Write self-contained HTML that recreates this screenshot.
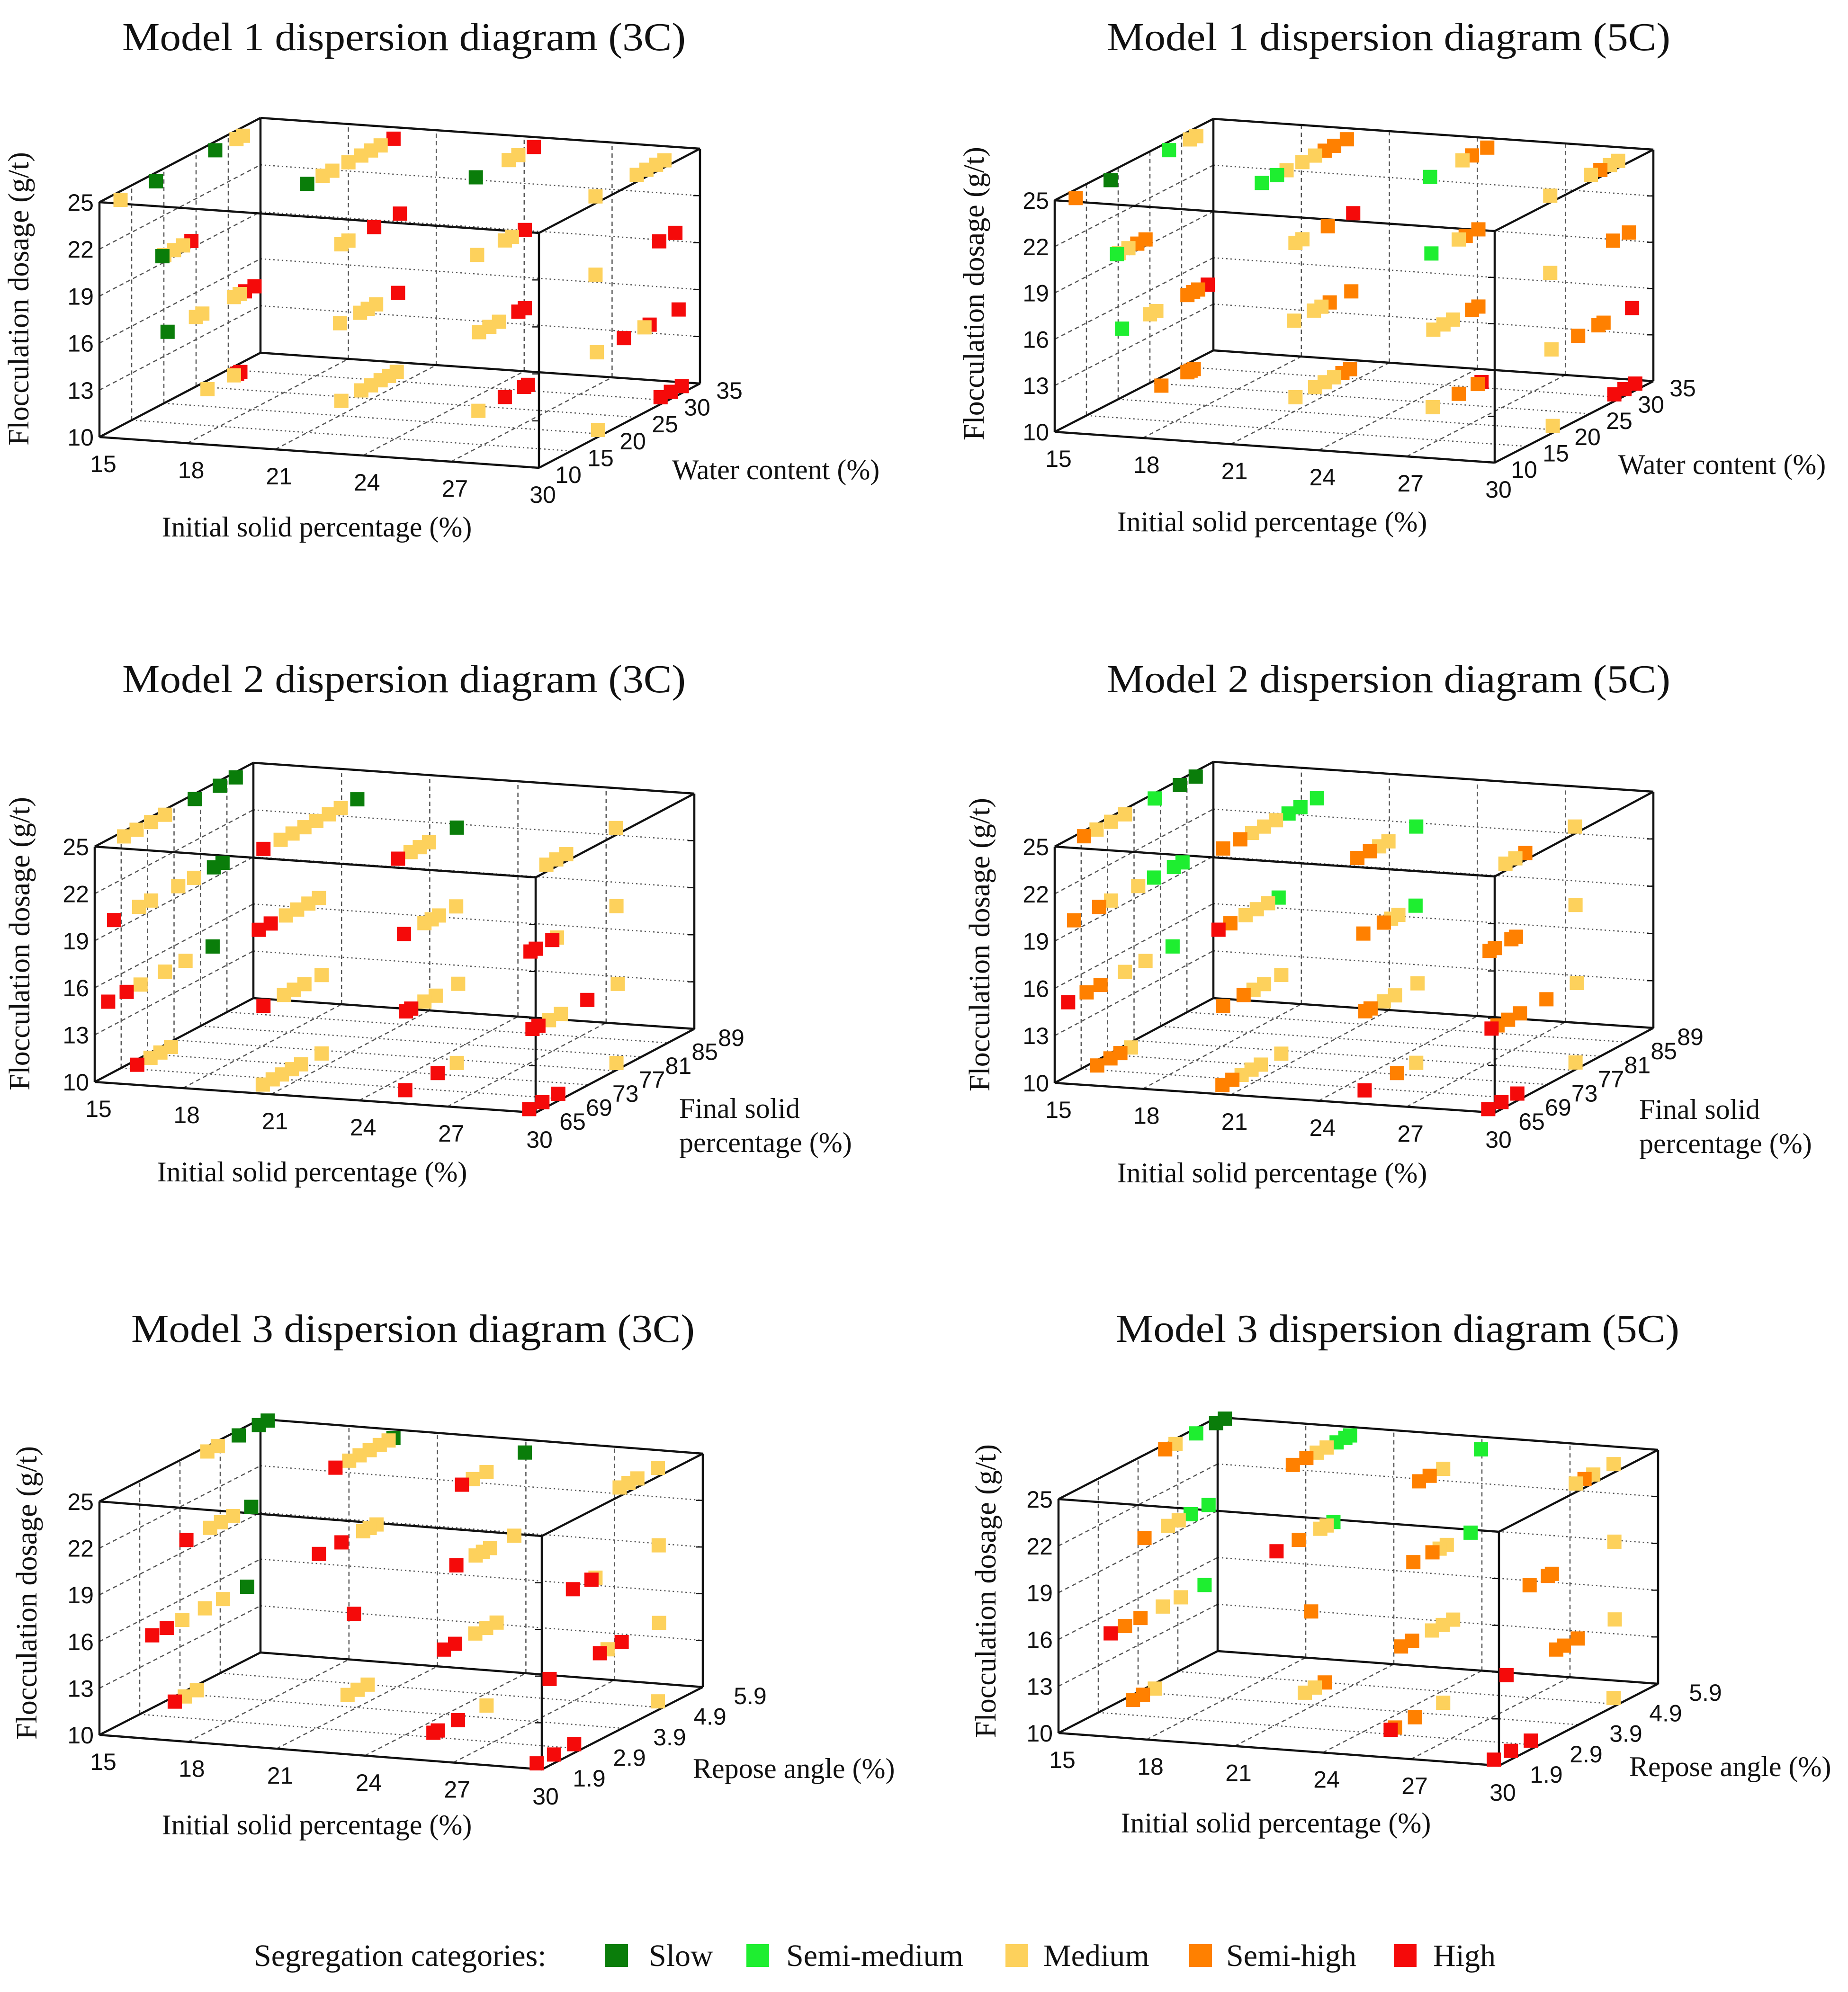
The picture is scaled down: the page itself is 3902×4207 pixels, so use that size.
<!DOCTYPE html>
<html><head><meta charset="utf-8"><style>
html,body{margin:0;padding:0;background:#fff;}
svg{display:block;}
</style></head><body>
<svg id="fig" xmlns="http://www.w3.org/2000/svg" width="3902" height="4207" viewBox="0 0 3902 4207">
<rect x="0" y="0" width="3902" height="4207" fill="#fff"/>
<g id="panels"></g>
<g id="legend" font-family="Liberation Serif, serif" font-size="66" fill="#111">
  <text x="536" y="4152">Segregation categories:</text>
  <rect x="1278" y="4106" width="48" height="48" fill="#0a7d0a"/>
  <text x="1370" y="4152">Slow</text>
  <rect x="1576" y="4106" width="48" height="48" fill="#1eee30"/>
  <text x="1660" y="4152">Semi-medium</text>
  <rect x="2123" y="4106" width="48" height="48" fill="#fdd15c"/>
  <text x="2203" y="4152">Medium</text>
  <rect x="2511" y="4106" width="48" height="48" fill="#ff8000"/>
  <text x="2589" y="4152">Semi-high</text>
  <rect x="2943" y="4106" width="48" height="48" fill="#f50a0a"/>
  <text x="3026" y="4152">High</text>
</g>
</svg>
<script>
// ---------- shared ticks ----------
const initTicks = [15,18,21,24,27,30];
const doseTicks = [10,13,16,19,22,25];
const waterTicks = [10,15,20,25,30,35];
const finalTicks = [65,69,73,77,81,85,89];
const reposeTicks = [1.9,2.9,3.9,4.9,5.9];

// ---------- Model 1 ----------
const m1Init = [
15.5,15.5,15.5,15.5,15.5,20.2,20.2,20.2,20.2,20.2,20.2,20.2,20.2,24.9,24.9,24.9,24.9,29.6,29.6,29.6,29.6,29.6,
15.5,15.5,15.5,15.5,15.5,20.2,20.2,20.2,20.2,24.9,24.9,24.9,24.9,29.6,29.6,29.6,
15.5,15.5,15.5,15.5,15.5,15.5,15.5,20.2,20.2,20.2,20.2,20.2,24.9,24.9,24.9,24.9,24.9,29.6,29.6,29.6,29.6,29.6,
15.5,15.5,15.5,15.5,20.2,20.2,20.2,20.2,20.2,20.2,24.9,24.9,24.9,24.9,29.6,29.6,29.6,29.6];
const m1Water = [
11,16.5,25.7,29,30,18.6,21,22.5,25,27,28.5,30,32,23.4,28.5,30,32.4,20.6,27,28.5,30,31.3,
17.5,17.8,19.3,20.7,22,23.9,25,29,33,23.6,27.9,29,31,20.6,30.5,33,
18.3,22.7,23.7,28.6,29.5,30.3,31.8,23.7,26.8,28,29.3,32.7,23.9,25.5,27,30,31,20.8,25,28.2,29,33.5,
24.5,28.6,29.1,29.6,23.9,27,28.5,30,31.3,32.5,23.8,27.9,30.9,31.5,21,30.7,32.3,34];
const m1Dose = [
25,25,25,25,25,25,25,25,25,25,25,25,25,25,25,25,25,25,25,25,25,25,
20,20,20,20,20,20,20,20,20,20,20,20,20,20,20,20,
15,15,15,15,15,15,15,15,15,15,15,15,15,15,15,15,15,15,15,15,15,15,
10,10,10,10,10,10,10,10,10,10,10,10,10,10,10,10,10,10];
const m1Cat3 = [
'M','S','S','M','M','S','M','M','M','M','M','M','H','S','M','M','H','M','M','M','M','M',
'S','M','M','M','H','M','M','H','H','M','M','M','H','M','H','H',
'S','M','M','M','M','H','H','M','M','M','M','H','M','M','M','H','H','M','H','M','H','H',
'M','M','H','H','M','M','M','M','M','M','M','H','H','H','M','H','H','H'];
const m1Cat5 = [
'SH','S','SM','M','M','SM','SM','M','M','M','SH','SH','SH','SM','M','SH','SH','M','M','SH','M','M',
'SM','M','M','SH','SH','M','M','SH','H','SM','M','SH','SH','M','SH','SH',
'SM','M','M','SH','SH','SH','H','M','M','M','SH','SH','M','M','M','SH','SH','M','SH','SH','SH','H',
'SH','SH','SH','SH','M','M','M','M','SH','SH','M','SH','SH','H','M','H','H','H'];

// ---------- Model 2 ----------
const m2Init = [
15.3,15.3,15.3,15.3,15.3,15.3,15.3,20.2,20.2,20.2,20.2,20.2,20.2,20.2,20.2,24.8,24.8,24.8,24.8,24.8,29.6,29.6,29.6,29.6,
15.3,15.3,15.3,15.3,15.3,15.3,15.3,20.2,20.2,20.2,20.2,20.2,20.2,24.8,24.8,24.8,24.8,24.8,29.6,29.6,29.6,29.6,29.6,
15.3,15.3,15.3,15.3,15.3,15.3,20.2,20.2,20.2,20.2,20.2,24.8,24.8,24.8,24.8,24.8,29.6,29.6,29.6,29.6,29.6,29.6,
15.3,15.3,15.3,15.3,20.2,20.2,20.2,20.2,20.2,20.2,24.8,24.8,24.8,29.6,29.6,29.6,29.6];
const m2Final = [
68.1,70,72.2,74.3,78.8,82.6,85,67.4,70,71.8,73.6,75.4,77.3,79.1,81.6,67.3,69.2,70.6,72,76.2,68.4,69.9,71.4,78.9,
66.6,70.4,72.2,76.3,78.7,81.7,83,66.7,68.5,70.8,72.5,74.2,75.8,68.2,71.3,72.4,73.5,76.1,66,66.8,69.3,70,79,
65.7,68.5,70.6,74.3,77.4,81.5,67.4,70.5,72,73.6,76.2,68.5,69.3,71.3,73,76.4,66.3,67.2,68.8,70.6,74.6,79.2,
70.1,72.1,73.6,75.2,67.3,68.8,70.2,71.7,73.1,76.2,68.4,73.3,76.2,65.8,67.8,70.2,79];
const m2Dose = [
25,25,25,25,25,25,25,25,25,25,25,25,25,25,25,25,25,25,25,25,25,25,25,25,
20,20,20,20,20,20,20,20,20,20,20,20,20,20,20,20,20,20,20,20,20,20,20,
15,15,15,15,15,15,15,15,15,15,15,15,15,15,15,15,15,15,15,15,15,15,
10,10,10,10,10,10,10,10,10,10,10,10,10,10,10,10,10];
const m2Cat3 = [
'M','M','M','M','S','S','S','H','M','M','M','M','M','M','S','H','M','M','M','S','M','M','M','M',
'H','M','M','M','M','S','S','H','H','M','M','M','M','H','M','M','M','M','H','H','H','M','M',
'H','H','M','M','M','S','H','M','M','M','M','H','H','M','M','M','H','H','M','M','H','M',
'H','M','M','M','M','M','M','M','M','M','H','H','M','H','H','H','M'];
const m2Cat5 = [
'SH','M','M','M','SM','S','S','SH','SH','M','M','M','SM','SM','SM','SH','SH','M','M','SM','M','M','SH','M',
'SH','SH','M','M','SM','SM','SM','H','SH','M','M','M','SM','SH','SH','M','M','SM','SH','SH','SH','SH','M',
'H','SH','SH','M','M','SM','SH','SH','M','M','M','SH','SH','M','M','M','H','SH','SH','SH','SH','M',
'SH','SH','SH','M','SH','SH','M','M','M','M','H','SH','M','H','H','H','M'];

// ---------- Model 3 ----------
const m3Init = [
15.3,15.3,15.3,15.3,15.3,20,20,20,20,20,20,20,24.7,24.7,24.7,24.7,29.5,29.5,29.5,29.5,
15.3,15.3,15.3,15.3,15.3,20,20,20,20,20,24.7,24.7,24.7,24.7,24.7,29.5,29.5,29.5,29.5,
15.3,15.3,15.3,15.3,15.3,15.3,20,24.7,24.7,24.7,24.7,24.7,29.5,29.5,29.5,29.5,29.5,
15.3,15.3,15.3,20,20,20,24.7,24.7,24.7,24.7,29.5,29.5,29.5,29.5];
const m3Repose = [
4.36,4.62,5.14,5.64,5.86,4.1,4.44,4.7,4.95,5.2,5.42,5.54,3.8,4.07,4.41,5.36,4.2,4.42,4.64,5.15,
3.84,4.43,4.7,5.0,5.45,3.69,4.25,4.79,4.95,5.12,3.66,4.14,4.32,4.5,5.1,3.04,3.5,3.6,5.17,
2.99,3.35,3.74,4.3,4.75,5.35,4.56,3.35,3.63,4.13,4.4,4.66,2.46,3.71,3.9,4.25,5.18,
3.55,3.8,4.1,4.4,4.65,4.9,3.09,3.2,3.7,4.41,2.14,2.57,3.07,5.15];
const m3Dose = [
25,25,25,25,25,25,25,25,25,25,25,25,25,25,25,25,25,25,25,25,
20,20,20,20,20,20,20,20,20,20,20,20,20,20,20,20,20,20,20,
15,15,15,15,15,15,15,15,15,15,15,15,15,15,15,15,15,
10,10,10,10,10,10,10,10,10,10,10,10,10,10];
const m3Cat3 = [
'M','M','S','S','S','H','M','M','M','M','M','S','H','M','M','S','M','M','M','M',
'H','M','M','M','S','H','H','M','M','M','H','M','M','M','M','H','H','M','M',
'H','H','M','M','M','S','H','H','H','M','M','M','H','H','M','H','M',
'H','M','M','M','M','M','H','H','H','M','H','H','H','M'];
const m3Cat5 = [
'SH','M','SM','S','S','SH','SH','M','M','SM','SM','SM','SH','SH','M','SM','M','SH','M','M',
'SH','M','M','SM','SM','H','SH','M','M','SM','SH','SH','M','M','SM','SH','SH','SH','M',
'H','SH','SH','M','M','SM','SH','SH','SH','M','M','M','H','SH','SH','SH','M',
'SH','SH','M','M','M','SH','H','SH','SH','M','H','H','H','M'];

const catColor = {S:'#0a7d0a', SM:'#1eee30', M:'#fdd15c', SH:'#ff8000', H:'#f50a0a'};
const catName = {S:'slow', SM:'semi-medium', M:'medium', SH:'semi-high', H:'high'};

const NS = 'http://www.w3.org/2000/svg';
function mk(tag, attrs, parent){
  const e = document.createElementNS(NS, tag);
  for (const k in attrs) e.setAttribute(k, attrs[k]);
  parent.appendChild(e);
  return e;
}

const panels = [
 {key:'model1-3c', title:'Model 1 dispersion  diagram (3C)', tx:853, ty:106, ox:210, oy:923, X:[928,65], Y:[340,-178], Z:[0,-496],
  wMin:10, wMax:35, wTicks:waterTicks, wTitle:['Water content (%)'], wtRel:[1209,89], wLab:[62,32],
  xs:m1Init, ws:m1Water, zs:m1Dose, cats:m1Cat3, ytRel:[-150,-292]},
 {key:'model1-5c', title:'Model 1 dispersion  diagram (5C)', tx:2932, ty:106, ox:2227, oy:912, X:[929,65], Y:[335,-172], Z:[0,-489],
  wMin:10, wMax:35, wTicks:waterTicks, wTitle:['Water content (%)'], wtRel:[1190,89], wLab:[62,32],
  xs:m1Init, ws:m1Water, zs:m1Dose, cats:m1Cat5, ytRel:[-150,-292]},
 {key:'model2-3c', title:'Model 2 dispersion  diagram (3C)', tx:853, ty:1462, ox:200, oy:2285, X:[931,65], Y:[335,-177], Z:[0,-497],
  wMin:65, wMax:89, wTicks:finalTicks, wTitle:['Final solid','percentage (%)'], wtRel:[1234,76], wLab:[78,36],
  xs:m2Init, ws:m2Final, zs:m2Dose, cats:m2Cat3, ytRel:[-138,-292]},
 {key:'model2-5c', title:'Model 2 dispersion  diagram (5C)', tx:2932, ty:1462, ox:2227, oy:2287, X:[929,63], Y:[335,-179], Z:[0,-499],
  wMin:65, wMax:89, wTicks:finalTicks, wTitle:['Final solid','percentage (%)'], wtRel:[1234,76], wLab:[78,36],
  xs:m2Init, ws:m2Final, zs:m2Dose, cats:m2Cat5, ytRel:[-138,-292]},
 {key:'model3-3c', title:'Model 3 dispersion  diagram (3C)', tx:872, ty:2834, ox:210, oy:3664, X:[934,73], Y:[340,-174], Z:[0,-493],
  wMin:1.9, wMax:5.9, wTicks:reposeTicks, wTitle:['Repose angle (%)'], wtRel:[1253,91], wLab:[100,36],
  xs:m3Init, ws:m3Repose, zs:m3Dose, cats:m3Cat3, ytRel:[-133,-300]},
 {key:'model3-5c', title:'Model 3 dispersion  diagram (5C)', tx:2951, ty:2834, ox:2235, oy:3660, X:[930,69], Y:[336,-173], Z:[0,-494],
  wMin:1.9, wMax:5.9, wTicks:reposeTicks, wTitle:['Repose angle (%)'], wtRel:[1205,91], wLab:[100,36],
  xs:m3Init, ws:m3Repose, zs:m3Dose, cats:m3Cat5, ytRel:[-133,-300]}
];

const root = document.getElementById('panels');

panels.forEach(p => {
  const P = (x,w,z) => {
    const u=(x-15)/15, v=(w-p.wMin)/(p.wMax-p.wMin), t=(z-10)/15;
    return [p.ox+u*p.X[0]+v*p.Y[0]+t*p.Z[0], p.oy+u*p.X[1]+v*p.Y[1]+t*p.Z[1]];
  };
  const g = mk('g', {}, root);
  
  

  const title = mk('text', {x:p.tx, y:p.ty, 'text-anchor':'middle', 'font-family':'Liberation Serif, serif', 'font-size':84, fill:'#111', textLength:1190, lengthAdjust:'spacingAndGlyphs'}, g);
  title.textContent = p.title;
  
  

  const grid = mk('g', {stroke:'#555', 'stroke-width':2.5, fill:'none'}, g);
  
  
  const line = (a,b,dash) => mk('line', {x1:a[0],y1:a[1],x2:b[0],y2:b[1],'stroke-dasharray':dash}, grid);
  const W0=p.wMin, W1=p.wMax;
  initTicks.forEach(x => { line(P(x,W1,10),P(x,W1,25),'9,7'); line(P(x,W0,10),P(x,W1,10),'9,7'); });
  doseTicks.forEach(z => { line(P(15,W1,z),P(30,W1,z),'3,6'); line(P(15,W0,z),P(15,W1,z),'9,7'); });
  p.wTicks.forEach(w => { line(P(15,w,10),P(15,w,25),'9,7'); line(P(15,w,10),P(30,w,10),'3,6'); });

  const box = mk('g', {stroke:'#111', 'stroke-width':4.5, fill:'none'}, g);
  
  
  const corners = [[15,W0],[30,W0],[30,W1],[15,W1]];
  for (let i=0;i<4;i++){
    const a=corners[i], b=corners[(i+1)%4];
    [10,25].forEach(z => { const s=P(a[0],a[1],z), e=P(b[0],b[1],z); mk('line',{x1:s[0],y1:s[1],x2:e[0],y2:e[1]},box); });
    const s=P(a[0],a[1],10), e=P(a[0],a[1],25); mk('line',{x1:s[0],y1:s[1],x2:e[0],y2:e[1]},box);
  }
  doseTicks.forEach(z => {
    [[30,W0],[30,W1]].forEach(c => { const s=P(c[0],c[1],z); mk('line',{x1:s[0]-14,y1:s[1],x2:s[0],y2:s[1],'stroke-width':2.5},box); });
  });

  const pts = mk('g', {}, g);
  
  
  const n = Math.min(p.xs.length, p.ws.length, p.zs.length, p.cats.length);
  const order = [];
  for (let i=0;i<n;i++) order.push(i);
  order.sort((a,b) => (p.ws[b]-p.ws[a]));
  order.forEach(i => {
    const c = P(p.xs[i], p.ws[i], p.zs[i]);
    const r = mk('rect', {x:c[0]-15, y:c[1]-15, width:30, height:30, fill:catColor[p.cats[i]]}, pts);
    
    
  });

  const lab = mk('g', {'font-family':'Liberation Sans, sans-serif', 'font-size':50, fill:'#111'}, g);
  
  
  initTicks.forEach(x => {
    const c=P(x,W0,10);
    const t=mk('text',{x:c[0]+8,y:c[1]+74,'text-anchor':'middle'},lab); t.textContent=String(x);
    
    
  });
  doseTicks.forEach(z => {
    const c=P(15,W0,z);
    const t=mk('text',{x:c[0]-12,y:c[1]+18,'text-anchor':'end'},lab); t.textContent=String(z);
    
    
  });
  p.wTicks.forEach(w => {
    const c=P(30,w,10);
    const t=mk('text',{x:c[0]+p.wLab[0],y:c[1]+p.wLab[1],'text-anchor':'middle'},lab); t.textContent=String(w);
    
    
  });

  const at = mk('g', {'font-family':'Liberation Serif, serif', 'font-size':60, fill:'#111'}, g);
  
  
  const xt = mk('text',{x:p.ox+459,y:p.oy+210,'text-anchor':'middle'},at); xt.textContent='Initial solid percentage (%)';
  
  
  p.wTitle.forEach((s,k) => {
    const t=mk('text',{x:p.ox+p.wtRel[0],y:p.oy+p.wtRel[1]+k*72},at); t.textContent=s;
    
    
  });
  const yx=p.ox+p.ytRel[0], yy=p.oy+p.ytRel[1];
  const yt = mk('text',{x:yx,y:yy,'text-anchor':'middle','font-size':62,transform:'rotate(-90 '+yx+' '+yy+')'},at); yt.textContent='Flocculation  dosage  (g/t)';
  
  
});
</script>
</body></html>
